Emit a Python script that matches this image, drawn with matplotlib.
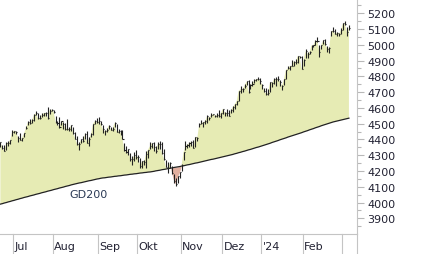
import matplotlib
matplotlib.use("Agg")
import matplotlib.pyplot as plt
import matplotlib.transforms as mtransforms
from matplotlib.ticker import MultipleLocator
import numpy as np

# daily bars, 22 Jun 2023 .. 6 Mar 2024 (trading days)
closes = [
    4381.89, 4348.33, 4328.82, 4378.41, 4376.86, 4396.44, 4450.38,
    4455.59, 4446.82, 4411.59, 4398.95, 4409.53, 4439.26, 4472.16, 4510.04, 4505.42, 4522.79,
    4554.98, 4565.72, 4534.87, 4536.34, 4554.64, 4567.46, 4566.75, 4537.41, 4582.23, 4588.96,
    4576.73, 4513.39, 4501.89, 4478.03, 4518.44, 4499.38, 4467.71, 4468.83, 4464.05, 4489.72,
    4437.86, 4404.33, 4370.36, 4369.71, 4399.77, 4387.55, 4436.01, 4376.31, 4405.71, 4433.31,
    4497.63, 4514.87, 4507.66,
    4515.77, 4496.83, 4465.48, 4451.14, 4457.49, 4487.46, 4461.90, 4467.44, 4505.10, 4450.32,
    4453.53, 4443.95, 4402.20, 4330.00, 4320.06, 4337.44, 4273.53, 4274.51, 4299.70, 4288.05,
    4288.39, 4229.45, 4263.75, 4258.19, 4308.50, 4335.66, 4358.24, 4376.95, 4349.61, 4327.78,
    4373.63, 4373.20, 4314.60, 4278.00, 4224.16, 4217.04, 4247.68, 4186.77, 4137.23, 4117.37,
    4166.82, 4193.80,
    4237.86, 4317.78, 4358.34, 4365.98, 4378.38, 4382.78, 4347.35, 4415.24, 4411.55, 4495.70,
    4502.88, 4508.24, 4514.02, 4547.38, 4538.19, 4556.62, 4559.34, 4550.43, 4554.89, 4550.58,
    4567.80,
    4594.63, 4569.78, 4567.18, 4549.34, 4585.59, 4604.37, 4622.44, 4643.70, 4707.09, 4719.55,
    4719.19, 4740.56, 4768.37, 4698.35, 4746.75, 4754.63, 4774.75, 4781.58, 4783.35, 4769.83,
    4742.83, 4704.81, 4688.68, 4697.24, 4763.54, 4756.50, 4783.45, 4780.24, 4783.83, 4765.98,
    4739.21, 4780.94, 4839.81, 4850.43, 4864.60, 4868.55, 4894.16, 4890.97, 4927.93, 4924.97,
    4845.65,
    4906.19, 4958.61, 4942.81, 4954.23, 4995.06, 4997.91, 5026.61, 5021.84, 4953.17, 5000.62,
    5029.73, 5005.57, 4975.51, 4981.80, 5087.03, 5088.80, 5069.53, 5078.18, 5069.76, 5096.27,
    5137.08, 5130.95, 5078.65, 5104.76,
]
highs = [
    4383, 4366, 4363, 4384, 4390, 4398, 4458,
    4456, 4454, 4423, 4443, 4412, 4443, 4488, 4517, 4528, 4532,
    4563, 4578, 4565, 4555, 4567, 4568, 4573, 4607, 4590, 4595,
    4585, 4551, 4519, 4540, 4519, 4512, 4503, 4528, 4476, 4491,
    4476, 4450, 4421, 4381, 4402, 4419, 4443, 4452, 4418, 4439,
    4500, 4521, 4533,
    4541, 4514, 4490, 4457, 4473, 4490, 4480, 4479, 4511, 4497,
    4467, 4461, 4461, 4376, 4357, 4338, 4313, 4292, 4318, 4334,
    4300, 4281, 4264, 4268, 4324, 4336, 4386, 4378, 4385, 4357,
    4383, 4393, 4385, 4339, 4269, 4255, 4259, 4230, 4182, 4157,
    4170, 4194,
    4245, 4319, 4393, 4372, 4387, 4391, 4399, 4418, 4414, 4504,
    4521, 4509, 4521, 4553, 4542, 4569, 4560, 4555, 4568, 4587,
    4569,
    4595, 4575, 4590, 4587, 4591, 4610, 4624, 4643, 4709, 4738,
    4725, 4749, 4769, 4778, 4749, 4772, 4784, 4785, 4793, 4788,
    4754, 4729, 4727, 4722, 4764, 4766, 4790, 4798, 4802, 4775,
    4744, 4783, 4842, 4868, 4866, 4903, 4899, 4907, 4929, 4932,
    4932,
    4907, 4975, 4957, 4958, 4999, 5001, 5030, 5048, 4996, 5001,
    5031, 5038, 4994, 4984, 5089, 5111, 5098, 5081, 5077, 5105,
    5141, 5149, 5114, 5127,
]
lows = [
    4352, 4341, 4328, 4336, 4360, 4373, 4423,
    4442, 4436, 4385, 4397, 4389, 4418, 4464, 4490, 4498, 4504,
    4518, 4557, 4527, 4532, 4542, 4547, 4546, 4528, 4560, 4578,
    4568, 4506, 4490, 4475, 4492, 4464, 4462, 4458, 4453, 4453,
    4432, 4404, 4365, 4335, 4375, 4386, 4401, 4376, 4356, 4417,
    4431, 4497, 4505,
    4501, 4492, 4442, 4431, 4448, 4468, 4460, 4453, 4478, 4448,
    4442, 4431, 4401, 4329, 4316, 4303, 4265, 4239, 4265, 4275,
    4260, 4216, 4220, 4235, 4219, 4283, 4339, 4345, 4325, 4311,
    4342, 4337, 4310, 4269, 4224, 4190, 4219, 4184, 4127, 4104,
    4127, 4153,
    4197, 4268, 4335, 4347, 4355, 4360, 4345, 4352, 4388, 4476,
    4496, 4477, 4499, 4506, 4525, 4542, 4552, 4541, 4540, 4544,
    4537,
    4560, 4547, 4547, 4548, 4565, 4576, 4594, 4619, 4643, 4694,
    4704, 4725, 4743, 4697, 4719, 4737, 4758, 4768, 4780, 4752,
    4723, 4700, 4684, 4683, 4700, 4731, 4750, 4740, 4768, 4740,
    4715, 4748, 4785, 4844, 4842, 4865, 4866, 4881, 4887, 4917,
    4845,
    4863, 4917, 4918, 4944, 4969, 4987, 5000, 5016, 4920, 4971,
    5007, 5000, 4956, 4946, 5056, 5082, 5068, 5058, 5059, 5071,
    5094, 5127, 5056, 5094,
]
gd200 = [
    3990, 3993, 3997, 4000, 4004, 4007, 4011, 4014, 4018, 4021, 4025, 4028, 4032, 4035,
    4038, 4042, 4045, 4048, 4052, 4055, 4058, 4062, 4065, 4068, 4072, 4075,
    4078, 4082, 4085, 4088, 4092, 4095, 4098, 4102, 4105, 4108, 4112, 4115, 4118,
    4121, 4124, 4126, 4129, 4132, 4135, 4138, 4140, 4143, 4146, 4149, 4151, 4154,
    4156, 4157, 4159, 4161, 4162, 4164, 4166, 4167, 4169, 4170, 4172, 4174, 4175,
    4177, 4179, 4180, 4182, 4183, 4185, 4187, 4188, 4190, 4191, 4193, 4194,
    4196, 4198, 4201, 4203, 4205, 4208, 4210, 4212, 4215, 4217, 4219, 4222, 4224, 4226, 4228,
    4231, 4233, 4236, 4239, 4241, 4244, 4247, 4250, 4252, 4255, 4258,
    4261, 4264, 4267, 4270, 4273, 4275, 4278, 4281, 4284, 4287, 4290, 4293, 4296, 4299, 4302, 4305,
    4309, 4312, 4316, 4319, 4323, 4326, 4330, 4334, 4337, 4341, 4345, 4349, 4352, 4356, 4360, 4364, 4368,
    4372, 4376, 4381, 4385, 4389, 4393, 4398, 4402, 4406, 4410, 4415, 4419, 4423, 4427, 4431, 4435, 4439,
    4443, 4448, 4452, 4456, 4461, 4465, 4469, 4474, 4478, 4482, 4487, 4491, 4495, 4499, 4503, 4507, 4511,
    4514, 4517, 4520, 4523, 4526, 4529, 4532, 4535,
]
month_labels = ["Jul", "Aug", "Sep", "Okt", "Nov", "Dez", "'24", "Feb", ""]
month_first_bar = [7, 27, 50, 70, 92, 113, 133, 154, 174]

c = np.array(closes, float)
g = np.array(gd200, float)
x = np.arange(len(c))

W, H = 426, 255
fig = plt.figure(figsize=(W / 100, H / 100), dpi=100)
ax = fig.add_axes([0, 20 / H, 357 / W, 235 / H])

ax.fill_between(x, c, g, where=c >= g, interpolate=True, color="#e6ebb4", lw=0)
ax.fill_between(x, c, g, where=c < g, interpolate=True, color="#e3b0a0", lw=0)
ax.plot(x, g, color="#222222", lw=0.9)
ax.vlines(x, lows, highs, color="#222222", lw=0.8)
ax.hlines(c, x, x + 0.55, color="#222222", lw=0.8)

ax.text(35, 4055, "GD200", fontsize=8, color="#2b3a55", ha="left", va="center")

ax.set_xlim(-0.2, 181.1)
ax.set_ylim(3800.5, 5290.6)

ax.yaxis.tick_right()
ax.yaxis.set_major_locator(MultipleLocator(100))
ax.yaxis.set_minor_locator(MultipleLocator(50))
ax.tick_params(axis="y", which="major", length=5, width=0.8, color="#b8b8b8",
               labelsize=8, labelcolor="#222233", pad=2.5)
ax.tick_params(axis="y", which="minor", length=3, width=0.8, color="#b8b8b8")
ax.set_yticks([v for v in range(3900, 5201, 100)])
ax.set_xticks([])

for s in ["top", "left"]:
    ax.spines[s].set_visible(False)
for s in ["bottom", "right"]:
    ax.spines[s].set_color("#c4c4c4")
    ax.spines[s].set_linewidth(0.8)

# month separators and labels below the plot
trans = mtransforms.blended_transform_factory(ax.transData, ax.transAxes)
for lab, b in zip(month_labels, month_first_bar):
    ax.plot([b - 0.5, b - 0.5], [0, -20 / 235], transform=trans, color="#c4c4c4",
            lw=0.8, clip_on=False)
    if lab:
        ax.text(b + 0.3, -12 / 235, lab, transform=trans, fontsize=8, color="#222233",
                ha="left", va="center")
fig.add_artist(plt.Line2D([357 / W, 357 / W], [0, 20 / H], color="#c4c4c4", lw=0.8))

fig.savefig("out.png", dpi=100)
